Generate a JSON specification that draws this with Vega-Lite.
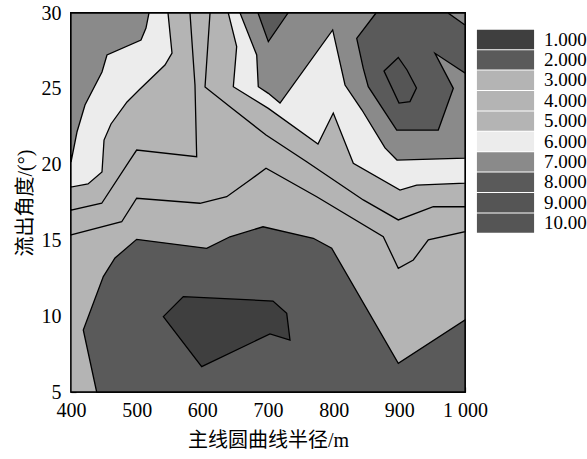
{
  "$schema": "https://vega.github.io/schema/vega-lite/v6.json",
  "width": 394,
  "height": 379,
  "autosize": {"type": "none"},
  "padding": {"left": 71, "top": 13, "right": 122, "bottom": 67},
  "background": "white",
  "config": {
    "view": {"stroke": "black", "strokeWidth": 1.5},
    "legend": {"rowPadding": -0.6},
    "axis": {
      "labelFont": "Liberation Serif",
      "labelFontSize": 20,
      "labelColor": "black",
      "tickColor": "black",
      "tickSize": -5,
      "tickWidth": 1.2,
      "domain": false,
      "grid": false,
      "labelFlush": false,
      "labelOverlap": false,
      "titleFont": "Liberation Serif, Noto Sans CJK SC",
      "titleFontSize": 20,
      "titleFontWeight": "normal",
      "titleColor": "black",
      "zindex": 1
    }
  },
  "data": {"values": [
    {"p":"p01","level":"3.000","i":0,"x":400,"y":5},
    {"p":"p01","level":"3.000","i":1,"x":1000,"y":5},
    {"p":"p01","level":"3.000","i":2,"x":1000,"y":30},
    {"p":"p01","level":"3.000","i":3,"x":400,"y":30},

    {"p":"p02","level":"2.000","i":0,"x":439.1,"y":5},
    {"p":"p02","level":"2.000","i":1,"x":418.7,"y":9.09},
    {"p":"p02","level":"2.000","i":2,"x":449.2,"y":12.61},
    {"p":"p02","level":"2.000","i":3,"x":467,"y":13.84},
    {"p":"p02","level":"2.000","i":4,"x":500,"y":15.07},
    {"p":"p02","level":"2.000","i":5,"x":606.6,"y":14.48},
    {"p":"p02","level":"2.000","i":6,"x":642.1,"y":15.24},
    {"p":"p02","level":"2.000","i":7,"x":692.4,"y":15.9},
    {"p":"p02","level":"2.000","i":8,"x":769,"y":15.14},
    {"p":"p02","level":"2.000","i":9,"x":797,"y":14.48},
    {"p":"p02","level":"2.000","i":10,"x":898.4,"y":6.89},
    {"p":"p02","level":"2.000","i":11,"x":1000,"y":9.75},
    {"p":"p02","level":"2.000","i":12,"x":1000,"y":5},

    {"p":"p03","level":"1.000","i":0,"x":540.6,"y":9.97},
    {"p":"p03","level":"1.000","i":1,"x":571,"y":11.29},
    {"p":"p03","level":"1.000","i":2,"x":707.6,"y":11},
    {"p":"p03","level":"1.000","i":3,"x":728.5,"y":10.19},
    {"p":"p03","level":"1.000","i":4,"x":733.5,"y":8.43},
    {"p":"p03","level":"1.000","i":5,"x":703,"y":8.83},
    {"p":"p03","level":"1.000","i":6,"x":599,"y":6.67},

    {"p":"p04","level":"4.000","i":0,"x":400,"y":30},
    {"p":"p04","level":"4.000","i":1,"x":1000,"y":30},
    {"p":"p04","level":"4.000","i":2,"x":1000,"y":15.57},
    {"p":"p04","level":"4.000","i":3,"x":944.1,"y":15.03},
    {"p":"p04","level":"4.000","i":4,"x":921.3,"y":13.71},
    {"p":"p04","level":"4.000","i":5,"x":898.4,"y":13.16},
    {"p":"p04","level":"4.000","i":6,"x":875.6,"y":15.24},
    {"p":"p04","level":"4.000","i":7,"x":774.2,"y":17.88},
    {"p":"p04","level":"4.000","i":8,"x":697,"y":19.76},
    {"p":"p04","level":"4.000","i":9,"x":672.6,"y":18.98},
    {"p":"p04","level":"4.000","i":10,"x":637.1,"y":17.88},
    {"p":"p04","level":"4.000","i":11,"x":596.4,"y":17.45},
    {"p":"p04","level":"4.000","i":12,"x":500,"y":17.78},
    {"p":"p04","level":"4.000","i":13,"x":477.2,"y":16.23},
    {"p":"p04","level":"4.000","i":14,"x":400,"y":15.36},

    {"p":"p05","level":"5.000","i":0,"x":400,"y":30},
    {"p":"p05","level":"5.000","i":1,"x":581.2,"y":30},
    {"p":"p05","level":"5.000","i":2,"x":588.8,"y":25.25},
    {"p":"p05","level":"5.000","i":3,"x":591.4,"y":20.52},
    {"p":"p05","level":"5.000","i":4,"x":500,"y":20.96},
    {"p":"p05","level":"5.000","i":5,"x":489.8,"y":20.3},
    {"p":"p05","level":"5.000","i":6,"x":446.8,"y":17.45},
    {"p":"p05","level":"5.000","i":7,"x":400,"y":17},

    {"p":"p06","level":"5.000","i":0,"x":611.7,"y":30},
    {"p":"p06","level":"5.000","i":1,"x":1000,"y":30},
    {"p":"p06","level":"5.000","i":2,"x":1000,"y":17.22},
    {"p":"p06","level":"5.000","i":3,"x":951.7,"y":17.22},
    {"p":"p06","level":"5.000","i":4,"x":898.4,"y":16.35},
    {"p":"p06","level":"5.000","i":5,"x":845.1,"y":17.67},
    {"p":"p06","level":"5.000","i":6,"x":758.9,"y":20.19},
    {"p":"p06","level":"5.000","i":7,"x":697,"y":21.95},
    {"p":"p06","level":"5.000","i":8,"x":642.1,"y":23.82},
    {"p":"p06","level":"5.000","i":9,"x":604.1,"y":25.12},
    {"p":"p06","level":"5.000","i":10,"x":608.6,"y":28.02},

    {"p":"p07","level":"6.000","i":0,"x":400,"y":30},
    {"p":"p07","level":"6.000","i":1,"x":547.7,"y":30},
    {"p":"p07","level":"6.000","i":2,"x":553.8,"y":27.36},
    {"p":"p07","level":"6.000","i":3,"x":543.1,"y":26.57},
    {"p":"p07","level":"6.000","i":4,"x":505.1,"y":24.99},
    {"p":"p07","level":"6.000","i":5,"x":485.3,"y":24.13},
    {"p":"p07","level":"6.000","i":6,"x":460.9,"y":22.68},
    {"p":"p07","level":"6.000","i":7,"x":450.3,"y":21.62},
    {"p":"p07","level":"6.000","i":8,"x":447.2,"y":19.51},
    {"p":"p07","level":"6.000","i":9,"x":425.9,"y":18.72},
    {"p":"p07","level":"6.000","i":10,"x":400,"y":18.52},

    {"p":"p08","level":"6.000","i":0,"x":639.5,"y":30},
    {"p":"p08","level":"6.000","i":1,"x":1000,"y":30},
    {"p":"p08","level":"6.000","i":2,"x":1000,"y":18.77},
    {"p":"p08","level":"6.000","i":3,"x":926.4,"y":18.65},
    {"p":"p08","level":"6.000","i":4,"x":901,"y":18.32},
    {"p":"p08","level":"6.000","i":5,"x":829.9,"y":20.09},
    {"p":"p08","level":"6.000","i":6,"x":799.4,"y":23.4},
    {"p":"p08","level":"6.000","i":7,"x":776.1,"y":21.36},
    {"p":"p08","level":"6.000","i":8,"x":700.5,"y":23.71},
    {"p":"p08","level":"6.000","i":9,"x":647.2,"y":25.14},
    {"p":"p08","level":"6.000","i":10,"x":652.3,"y":27.78},

    {"p":"p09","level":"7.000","i":0,"x":400,"y":30},
    {"p":"p09","level":"7.000","i":1,"x":518.8,"y":30},
    {"p":"p09","level":"7.000","i":2,"x":514.2,"y":29.01},
    {"p":"p09","level":"7.000","i":3,"x":506.6,"y":28.22},
    {"p":"p09","level":"7.000","i":4,"x":454.8,"y":27.23},
    {"p":"p09","level":"7.000","i":5,"x":447.2,"y":26.11},
    {"p":"p09","level":"7.000","i":6,"x":421.3,"y":23.93},
    {"p":"p09","level":"7.000","i":7,"x":409.1,"y":22.15},
    {"p":"p09","level":"7.000","i":8,"x":400,"y":20.17},

    {"p":"p10","level":"7.000","i":0,"x":657.4,"y":30},
    {"p":"p10","level":"7.000","i":1,"x":1000,"y":30},
    {"p":"p10","level":"7.000","i":2,"x":1000,"y":20.42},
    {"p":"p10","level":"7.000","i":3,"x":896.4,"y":20.3},
    {"p":"p10","level":"7.000","i":4,"x":878.2,"y":21.1},
    {"p":"p10","level":"7.000","i":5,"x":843.1,"y":23.6},
    {"p":"p10","level":"7.000","i":6,"x":817.3,"y":25.25},
    {"p":"p10","level":"7.000","i":7,"x":798.5,"y":28.88},
    {"p":"p10","level":"7.000","i":8,"x":718.3,"y":24.06},
    {"p":"p10","level":"7.000","i":9,"x":700.5,"y":24.7},
    {"p":"p10","level":"7.000","i":10,"x":685.2,"y":25.14},
    {"p":"p10","level":"7.000","i":11,"x":682.8,"y":27.23},

    {"p":"p11","level":"8.000","i":0,"x":684.8,"y":30},
    {"p":"p11","level":"8.000","i":1,"x":700.5,"y":28.11},
    {"p":"p11","level":"8.000","i":2,"x":730.5,"y":30},

    {"p":"p12","level":"8.000","i":0,"x":864.5,"y":30},
    {"p":"p12","level":"8.000","i":1,"x":835.1,"y":28.33},
    {"p":"p12","level":"8.000","i":2,"x":845.1,"y":26.35},
    {"p":"p12","level":"8.000","i":3,"x":852.7,"y":25.14},
    {"p":"p12","level":"8.000","i":4,"x":896,"y":22.28},
    {"p":"p12","level":"8.000","i":5,"x":959.3,"y":22.28},
    {"p":"p12","level":"8.000","i":6,"x":982.2,"y":25.03},
    {"p":"p12","level":"8.000","i":7,"x":954.3,"y":27.34},
    {"p":"p12","level":"8.000","i":8,"x":1000,"y":26.04},
    {"p":"p12","level":"8.000","i":9,"x":1000,"y":29.21},
    {"p":"p12","level":"8.000","i":10,"x":974.1,"y":30},

    {"p":"p13","level":"9.000","i":0,"x":876.7,"y":26.17},
    {"p":"p13","level":"9.000","i":1,"x":898.4,"y":27.07},
    {"p":"p13","level":"9.000","i":2,"x":911.7,"y":26.24},
    {"p":"p13","level":"9.000","i":3,"x":926.1,"y":25.05},
    {"p":"p13","level":"9.000","i":4,"x":916.2,"y":24.16},
    {"p":"p13","level":"9.000","i":5,"x":899.5,"y":24.06}
  ]},
  "mark": {"type": "line", "interpolate": "linear-closed", "filled": true, "stroke": "black", "strokeWidth": 1.3, "strokeJoin": "miter"},
  "encoding": {
    "x": {
      "field": "x", "type": "quantitative",
      "scale": {"domain": [400, 1000], "nice": false, "zero": false},
      "axis": {
        "values": [400, 500, 600, 700, 800, 900, 1000],
        "labelExpr": "datum.value === 1000 ? '1 000' : datum.label",
        "labelPadding": 13,
        "title": "主线圆曲线半径/m",
        "titlePadding": 10
      }
    },
    "y": {
      "field": "y", "type": "quantitative",
      "scale": {"domain": [5, 30], "nice": false, "zero": false},
      "axis": {
        "values": [5, 10, 15, 20, 25, 30],
        "labelPadding": 15,
        "title": "流出角度/(°)",
        "titlePadding": 6
      }
    },
    "detail": {"field": "p", "type": "nominal"},
    "order": {"field": "i", "type": "quantitative"},
    "color": {
      "field": "level", "type": "nominal",
      "scale": {
        "domain": ["1.000", "2.000", "3.000", "4.000", "5.000", "6.000", "7.000", "8.000", "9.000", "10.00"],
        "range": ["#3f3f3f", "#5a5a5a", "#b4b4b4", "#b4b4b4", "#b4b4b4", "#ececec", "#8a8a8a", "#5a5a5a", "#555555", "#555555"]
      },
      "legend": {
        "orient": "none",
        "legendX": 425,
        "legendY": 17,
        "title": null,
        "symbolType": "M-3.3,-1.12H3.3V1.12H-3.3Z",
        "symbolSize": 300,
        "symbolStrokeWidth": 0,
        "labelFont": "Liberation Serif",
        "labelFontSize": 19,
        "labelBaseline": "middle",
        "labelColor": "black",
        "labelOffset": 29
      }
    }
  }
}
